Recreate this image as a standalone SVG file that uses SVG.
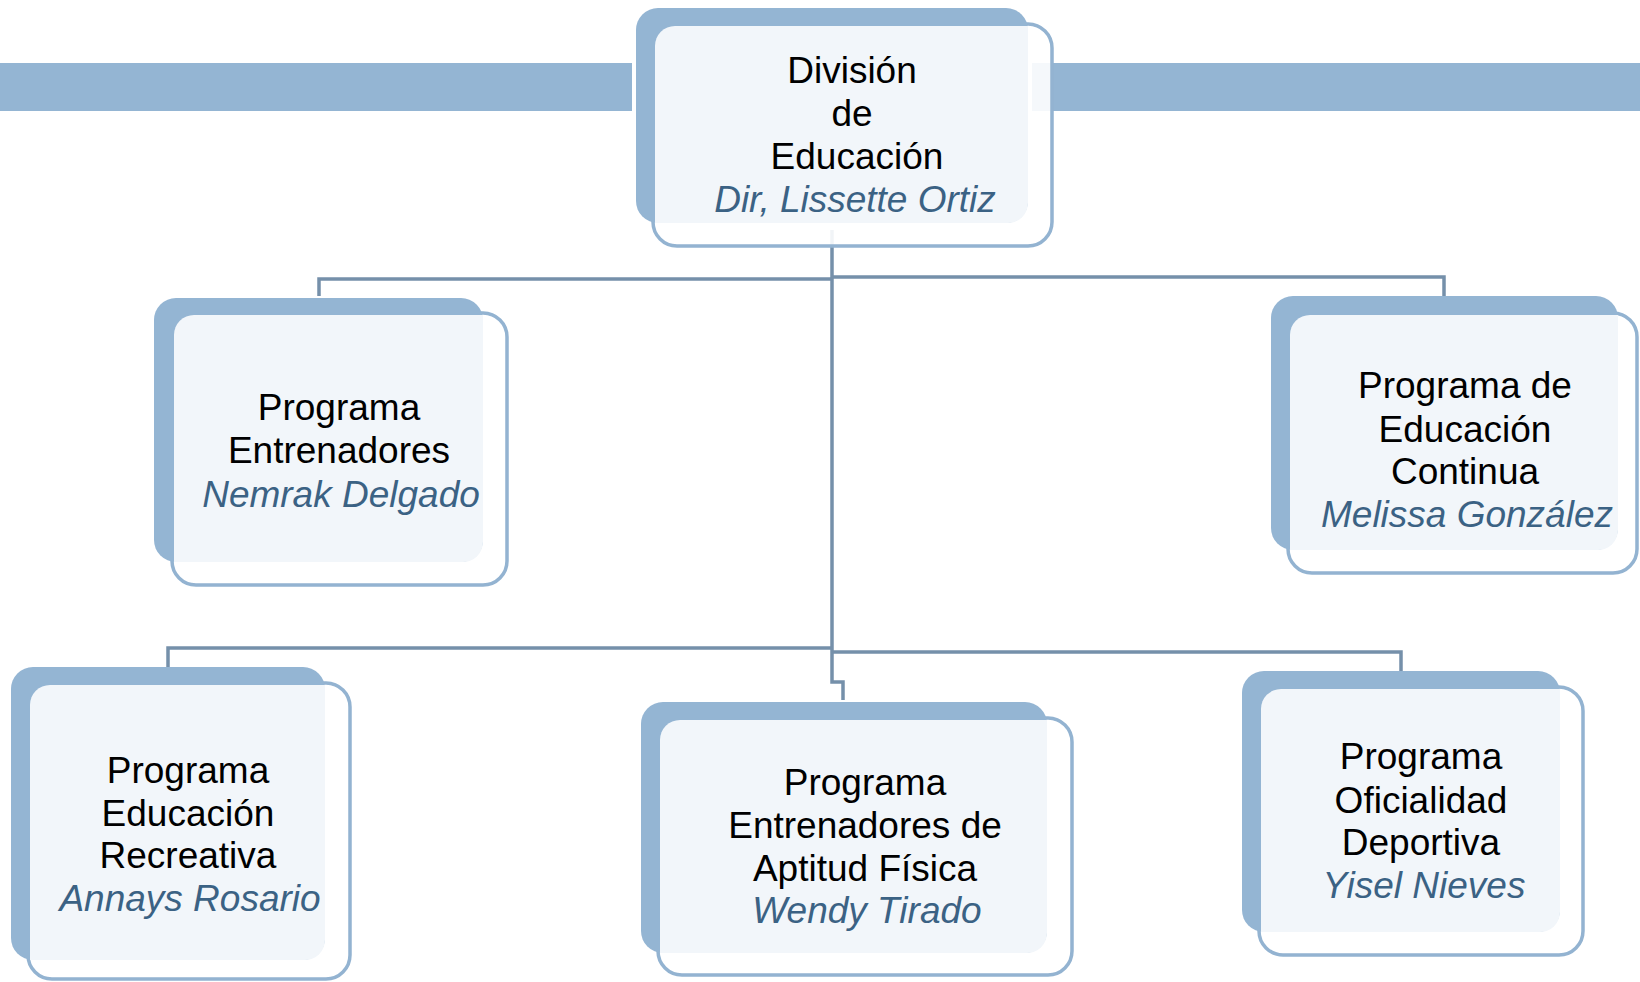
<svg xmlns="http://www.w3.org/2000/svg" width="1640" height="982" viewBox="0 0 1640 982">
<style>
.bar{fill:#94B5D3}
.out{fill:#FFFFFF;fill-opacity:0.9;stroke:#93B3D1;stroke-width:3.5}
.sh{fill:#94B5D3}
.lt{fill:#F2F6FA}
.cn{fill:none;stroke:#7590AA;stroke-width:3.5}
text{font-family:"Liberation Sans",Arial,sans-serif;font-size:37px;text-anchor:middle;fill:#000}
.nm{font-style:italic;fill:#3B6284}
</style>
<rect class="bar" x="0" y="63" width="632" height="48"/>
<rect class="bar" x="1032" y="63" width="608" height="48"/>
<g id="connectors">
<path class="cn" d="M 832,230 V 682 H 843 V 700"/>
<path class="cn" d="M 832,279 H 319 V 296"/>
<path class="cn" d="M 832,277 H 1444 V 296"/>
<path class="cn" d="M 832,648 H 168 V 667"/>
<path class="cn" d="M 832,652 H 1401 V 671"/>
</g>
<g id="division">
<rect class="out" x="653" y="24" width="399" height="222" rx="24"/>
<rect class="sh" x="636" y="8" width="392" height="215" rx="22"/>
<path class="lt" d="M 655,46 A 20 20 0 0 1 675,26 L 1028,26 L 1028,203 A 20 20 0 0 1 1008,223 L 655,223 Z"/>
<text x="852" y="83">División</text>
<text x="852" y="126">de</text>
<text x="857" y="169">Educación</text>
<text class="nm" x="855" y="212">Dir, Lissette Ortiz</text>
</g>
<g id="entrenadores">
<rect class="out" x="172" y="313" width="335" height="272" rx="24"/>
<rect class="sh" x="154" y="298" width="329" height="264" rx="22"/>
<path class="lt" d="M 174,335 A 20 20 0 0 1 194,315 L 483,315 L 483,542 A 20 20 0 0 1 463,562 L 174,562 Z"/>
<text x="339" y="420">Programa</text>
<text x="339" y="463">Entrenadores</text>
<text class="nm" x="341" y="507">Nemrak Delgado</text>
</g>
<g id="continua">
<rect class="out" x="1288" y="313" width="349" height="260" rx="24"/>
<rect class="sh" x="1271" y="296" width="347" height="254" rx="22"/>
<path class="lt" d="M 1290,335 A 20 20 0 0 1 1310,315 L 1618,315 L 1618,530 A 20 20 0 0 1 1598,550 L 1290,550 Z"/>
<text x="1465" y="398">Programa de</text>
<text x="1465" y="442">Educación</text>
<text x="1465" y="484">Continua</text>
<text class="nm" x="1467" y="527">Melissa González</text>
</g>
<g id="recreativa">
<rect class="out" x="28" y="683" width="322" height="296" rx="24"/>
<rect class="sh" x="11" y="667" width="314" height="293" rx="22"/>
<path class="lt" d="M 30,705 A 20 20 0 0 1 50,685 L 325,685 L 325,940 A 20 20 0 0 1 305,960 L 30,960 Z"/>
<text x="188" y="783">Programa</text>
<text x="188" y="826">Educación</text>
<text x="188" y="868">Recreativa</text>
<text class="nm" x="190" y="911">Annays Rosario</text>
</g>
<g id="aptitud">
<rect class="out" x="658" y="718" width="414" height="257" rx="24"/>
<rect class="sh" x="641" y="702" width="406" height="251" rx="22"/>
<path class="lt" d="M 660,740 A 20 20 0 0 1 680,720 L 1047,720 L 1047,933 A 20 20 0 0 1 1027,953 L 660,953 Z"/>
<text x="865" y="795">Programa</text>
<text x="865" y="838">Entrenadores de</text>
<text x="865" y="881">Aptitud Física</text>
<text class="nm" x="867" y="923">Wendy Tirado</text>
</g>
<g id="oficialidad">
<rect class="out" x="1259" y="687" width="324" height="268" rx="24"/>
<rect class="sh" x="1242" y="671" width="318" height="261" rx="22"/>
<path class="lt" d="M 1261,709 A 20 20 0 0 1 1281,689 L 1560,689 L 1560,912 A 20 20 0 0 1 1540,932 L 1261,932 Z"/>
<text x="1421" y="769">Programa</text>
<text x="1421" y="813">Oficialidad</text>
<text x="1421" y="855">Deportiva</text>
<text class="nm" x="1424" y="898">Yisel Nieves</text>
</g>
</svg>
